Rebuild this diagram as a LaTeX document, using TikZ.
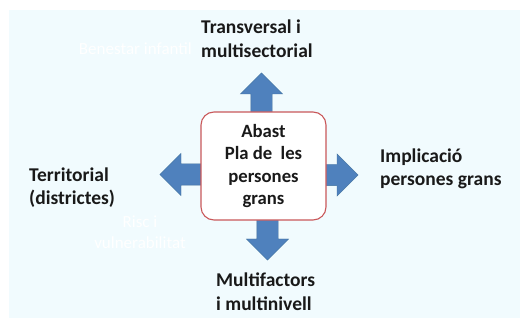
\documentclass[tikz,border=0pt]{standalone}
\usepackage{fontspec}
\setmainfont{Carlito}[BoldFont={Carlito Bold}]
\usetikzlibrary{shapes.arrows,calc}
\definecolor{bgcyan}{HTML}{F1FBFE}
\definecolor{boxred}{HTML}{C9585A}
\definecolor{arrowblue}{HTML}{4F81BD}
\definecolor{arrowedge}{HTML}{41719C}
\tikzset{
  label/.style={font=\fontsize{19.5}{23.5}\selectfont\bfseries, text=black!90, align=left, anchor=west, inner sep=0pt},
  ghost/.style={font=\fontsize{17}{21}\selectfont, text=white, align=center, inner sep=0pt},
  centrebox/.style={draw=boxred, line width=1.1pt, fill=white, rounded corners=13pt, minimum width=125pt, minimum height=108pt, align=center, font=\fontsize{18.7}{22.4}\selectfont\bfseries, text=black!90},
  blockarrow/.style={single arrow, fill=arrowblue, draw=arrowedge, line width=0.4pt, inner sep=0pt, text height=10.5pt, text depth=10.5pt, minimum width=42pt, single arrow head extend=10.5pt, single arrow head indent=0pt, anchor=tail}
}
\begin{document}
\begin{tikzpicture}[x=1pt,y=-1pt]
  \useasboundingbox (0,0) rectangle (521,320);
  \fill[bgcyan] (9,10) rectangle (520,318);
  % arrows first, box on top
  \coordinate (mid) at (263.5,166);
  \node[blockarrow, minimum height=45pt, rotate=90] (arrowup) at (261.5,118) {};
  \node[blockarrow, minimum height=46pt, rotate=-90] (arrowdown) at (267.5,214) {};
  \node[blockarrow, minimum height=47pt, rotate=180] (arrowleft) at (207,174.5) {};
  \node[blockarrow, minimum height=38pt] (arrowright) at (320,175) {};
  \node[centrebox] (box) at (mid) {Abast\\Pla de~ les\\persones\\grans};
  % labels
  \node[label] (transversal) at (201,38.5) {Transversal i\\multisectorial};
  \node[label] (territorial) at (29,187.5) {Territorial\\(districtes)};
  \node[label] (implicacio) at (380,169) {Implicació\\persones grans};
  \node[label] (multifactors) at (216,291.5) {Multifactors\\i multinivell};
  % faint texts
  \node[ghost, anchor=east] (benestar) at (192,49) {Benestar infantil};
  \node[ghost] (risc) at (140,232.5) {Risc i\\vulnerabilitat};
\end{tikzpicture}
\end{document}
